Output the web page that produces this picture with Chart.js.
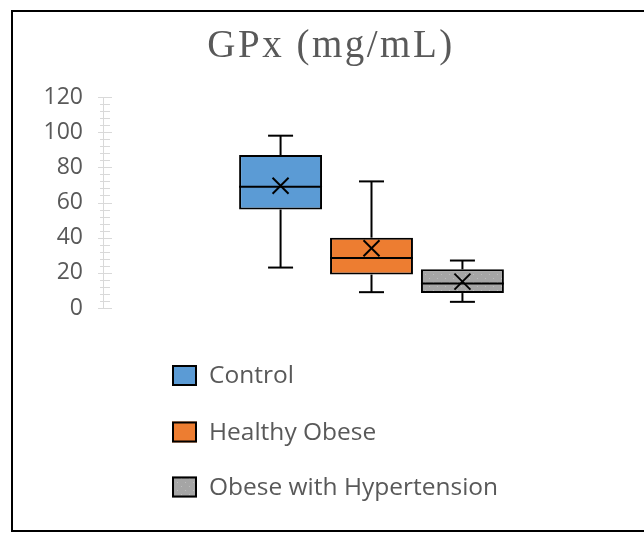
<!DOCTYPE html>
<html>
<head>
<meta charset="utf-8">
<script src="https://cdn.jsdelivr.net/npm/chart.js@4/dist/chart.umd.min.js"></script>
<style>
  html, body { margin: 0; padding: 0; background: #ffffff; }
  canvas { display: block; }
</style>
</head>
<body>
<canvas id="c" width="644" height="533"></canvas>
<script>
// ---- data ----
const groups      = ['Control', 'Healthy Obese', 'Obese with Hypertension'];
const whiskerMin  = [23, 9, 3.5];
const q1Values    = [56, 19, 8.5];
const medianVals  = [69, 28.5, 14];
const q3Values    = [87, 40, 22];
const whiskerMax  = [98, 72, 27];
const meanValues  = [69.5, 34, 15];
const yMin = 0, yMax = 120, yStep = 20, yMinorStep = 4;
const titleText = 'GPx (mg/mL)';

// ---- styles ----
const fillColors = ['#5B9BD5', '#ED7D31', null];
const textGray = '#595959';
const axisGray = '#D9D9D9';

function grayPattern() {
  const p = document.createElement('canvas');
  p.width = 8; p.height = 8;
  const g = p.getContext('2d');
  g.fillStyle = '#A5A5A5';
  g.fillRect(0, 0, 8, 8);
  g.fillStyle = '#BDBDBD';
  g.fillRect(1, 2, 1, 1);
  g.fillRect(5, 6, 1, 1);
  return document.getElementById('c').getContext('2d').createPattern(p, 'repeat');
}
fillColors[2] = grayPattern();

const frameCfg = { x: 12, y: 11, w: 700, h: 520 };
const legendCfg = { x: 172, boxW: 25, boxH: 21, textX: 209, ys: [375.5, 432, 487], font: '24.5px "Open Sans"' };

const framePlugin = {
  id: 'frame',
  beforeDraw(chart) {
    const ctx = chart.ctx;
    ctx.save();
    ctx.fillStyle = '#ffffff';
    ctx.fillRect(0, 0, chart.width, chart.height);
    ctx.strokeStyle = '#000000';
    ctx.lineWidth = 2;
    ctx.strokeRect(frameCfg.x, frameCfg.y, frameCfg.w, frameCfg.h);
    ctx.restore();
    // the title (drawn in the first layer pass) gets a slightly wider letter spacing
    if ('letterSpacing' in ctx) ctx.letterSpacing = '2.5px';
  },
  beforeDatasetsDraw(chart) {
    if ('letterSpacing' in chart.ctx) chart.ctx.letterSpacing = '0px';
  }
};

const axisTicksPlugin = {
  id: 'axisTicks',
  afterDraw(chart) {
    const ctx = chart.ctx, y = chart.scales.y, x0 = chart.chartArea.left;
    ctx.save();
    ctx.strokeStyle = axisGray;
    ctx.lineWidth = 1;
    for (let v = yMin; v <= yMax; v += yMinorStep) {
      const py = Math.round(y.getPixelForValue(v)) + 0.5;
      const major = v % yStep === 0;
      ctx.beginPath();
      ctx.moveTo(x0 - (major ? 5 : 3), py);
      ctx.lineTo(x0 + (major ? 9 : 7), py);
      ctx.stroke();
    }
    ctx.restore();
  }
};

const boxPlugin = {
  id: 'boxDetails',
  afterDatasetsDraw(chart) {
    const ctx = chart.ctx, y = chart.scales.y;
    ctx.save();
    ctx.strokeStyle = '#000000';
    ctx.lineWidth = 2;
    const line = (a, b, c, d) => { ctx.beginPath(); ctx.moveTo(a, b); ctx.lineTo(c, d); ctx.stroke(); };
    chart.data.datasets.forEach((ds, i) => {
      const bar = chart.getDatasetMeta(i).data[0];
      const cx = bar.x, half = bar.width / 2;
      const pMax = y.getPixelForValue(whiskerMax[i]);
      const pMin = y.getPixelForValue(whiskerMin[i]);
      const pQ1 = y.getPixelForValue(q1Values[i]);
      const pQ3 = y.getPixelForValue(q3Values[i]);
      const pMed = y.getPixelForValue(medianVals[i]);
      const pMean = y.getPixelForValue(meanValues[i]);
      line(cx, pQ3, cx, pMax);
      line(cx, pQ1, cx, pMin);
      line(cx - 12.5, pMax, cx + 12.5, pMax);
      line(cx - 12.5, pMin, cx + 12.5, pMin);
      line(cx - half, pMed, cx + half, pMed);
      const s = 8;
      line(cx - s, pMean - s, cx + s, pMean + s);
      line(cx - s, pMean + s, cx + s, pMean - s);
    });
    ctx.restore();
  }
};

const legendPlugin = {
  id: 'boxLegend',
  afterDraw(chart) {
    const ctx = chart.ctx;
    ctx.save();
    ctx.font = legendCfg.font;
    ctx.textBaseline = 'middle';
    ctx.textAlign = 'left';
    chart.data.datasets.forEach((ds, i) => {
      const cy = legendCfg.ys[i];
      ctx.fillStyle = ds.backgroundColor;
      ctx.fillRect(legendCfg.x, cy - legendCfg.boxH / 2, legendCfg.boxW, legendCfg.boxH);
      ctx.strokeStyle = '#000000';
      ctx.lineWidth = 2;
      ctx.strokeRect(legendCfg.x + 1, cy - legendCfg.boxH / 2 + 1, legendCfg.boxW - 2, legendCfg.boxH - 2);
      ctx.fillStyle = textGray;
      ctx.fillText(ds.label, legendCfg.textX, cy + 1);
    });
    ctx.restore();
  }
};

const datasets = groups.map((g, i) => ({
  label: g,
  data: [[q1Values[i], q3Values[i]]],
  backgroundColor: fillColors[i],
  borderColor: '#000000',
  borderWidth: 2,
  borderSkipped: false,
  categoryPercentage: 0.508,
  barPercentage: 0.912
}));

new Chart(document.getElementById('c'), {
  type: 'bar',
  data: { labels: [''], datasets },
  plugins: [framePlugin, boxPlugin, axisTicksPlugin, legendPlugin],
  options: {
    responsive: false,
    animation: false,
    devicePixelRatio: 1,
    layout: { padding: { left: 22, right: 4, top: 0, bottom: 225 } },
    plugins: {
      legend: { display: false },
      tooltip: { enabled: false },
      title: {
        display: true,
        text: titleText,
        color: textGray,
        font: { family: '"Liberation Serif", "Times New Roman", serif', size: 39, weight: 'normal', lineHeight: 1.2 },
        padding: { top: 23.5, bottom: 26.7 }
      }
    },
    scales: {
      x: { display: false },
      y: {
        min: yMin, max: yMax,
        afterFit(s) { s.width = 81; },
        ticks: { z: 1, stepSize: yStep, color: textGray, padding: 20, font: { family: '"Open Sans"', size: 23 } },
        grid: { display: false, drawTicks: false },
        border: { display: true, color: axisGray, width: 1 }
      }
    }
  }
});
</script>
</body>
</html>
